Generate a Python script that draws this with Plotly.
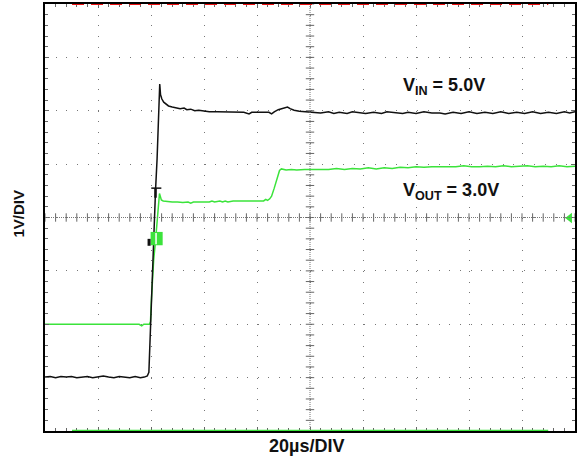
import plotly.graph_objects as go

# ---- data (time in µs, screen volts at 1V/DIV; bottom of screen = 0) ----
t_vin = [0, 2, 4, 6, 8, 10, 12, 14, 16, 18, 20, 22, 24, 26, 28, 30, 32, 34, 36, 37.5, 38.6,
         39.2, 39.5, 39.8, 40.2, 40.6, 41.1, 41.7, 42.3, 42.8, 43.1, 43.3, 43.6, 44.1, 44.8,
         45.6, 46.6, 48, 49.5, 51, 52.5, 53.5, 55, 56.5, 58, 60, 62, 65, 70, 75, 77, 78, 82,
         84.5, 85.5, 86.5, 88, 89.5, 90.8, 91.5, 92.5, 94, 96, 98, 101, 104, 107, 109, 111,
         114, 116, 119, 121, 124, 127, 129, 132, 135, 137, 140, 143, 146, 149, 151, 154, 157,
         160, 163, 166, 169, 172, 175, 178, 181, 184, 187, 190, 193, 196, 198, 200]
v_vin = [1.01, 1.02, 1.00, 1.02, 1.01, 1.02, 1.00, 1.01, 1.02, 1.00, 1.01, 1.03, 1.01, 1.00,
         1.02, 1.01, 1.00, 1.02, 1.00, 1.01, 1.03, 1.10, 1.5, 2.0, 2.6, 3.2, 3.9, 4.5, 5.1,
         5.9, 6.45, 6.50, 6.30, 6.22, 6.16, 6.12, 6.09, 6.07, 6.05, 6.04, 6.05, 6.02, 6.03,
         6.00, 6.01, 5.99, 5.98, 5.98, 5.97, 5.97, 5.94, 5.97, 5.97, 5.97, 5.94, 5.98, 6.02,
         6.04, 6.05, 6.07, 6.04, 6.01, 5.99, 5.98, 5.97, 5.96, 5.98, 5.95, 5.97, 5.95, 5.98,
         5.96, 5.95, 5.97, 5.95, 5.98, 5.96, 5.95, 5.97, 5.95, 5.98, 5.96, 5.96, 5.94, 5.97,
         5.95, 5.98, 5.95, 5.97, 5.95, 5.98, 5.95, 5.97, 5.95, 5.98, 5.95, 5.97, 5.95, 5.98,
         5.96, 5.98]

t_vout = [0, 4, 8, 12, 16, 20, 24, 28, 32, 35.5, 36.5, 37.3, 39.4, 39.8, 40.2, 40.6, 41.0,
          41.6, 42.2, 42.8, 43.2, 43.5, 43.9, 44.6, 46, 48, 50, 52, 54, 55, 56, 58, 60, 62,
          63, 64, 66, 67, 68, 69, 71, 74, 78, 81, 82.5, 83.3, 84, 84.8, 85.5, 86.5, 87.5,
          88.5, 89.2, 91, 93, 95, 98, 101, 104, 107, 110, 113, 116, 119, 122, 125, 128, 131,
          134, 137, 140, 143, 146, 149, 152, 155, 158, 161, 164, 167, 170, 173, 176, 179, 182,
          185, 188, 191, 194, 197, 200]
v_vout = [2.00, 2.00, 2.00, 2.00, 2.00, 2.00, 2.00, 2.00, 2.00, 2.00, 1.97, 2.00, 2.00, 2.05,
          2.5, 2.9, 3.2, 3.5, 3.9, 4.2, 4.45, 4.40, 4.33, 4.31, 4.30, 4.29, 4.29, 4.28, 4.29,
          4.27, 4.29, 4.29, 4.30, 4.29, 4.31, 4.29, 4.31, 4.29, 4.31, 4.29, 4.31, 4.31, 4.31,
          4.32, 4.31, 4.34, 4.32, 4.35, 4.40, 4.55, 4.72, 4.88, 4.91, 4.89, 4.90, 4.89, 4.90,
          4.90, 4.91, 4.90, 4.92, 4.90, 4.92, 4.91, 4.93, 4.91, 4.93, 4.92, 4.94, 4.93, 4.95,
          4.94, 4.95, 4.95, 4.95, 4.95, 4.97, 4.95, 4.95, 4.96, 4.95, 4.97, 4.95, 4.96, 4.97,
          4.95, 4.96, 4.95, 4.97, 4.95, 4.96]

x_label = "20µs/DIV"
y_label = "1V/DIV"
vin_label = "V<sub>IN</sub> = 5.0V"
vout_label = "V<sub>OUT</sub> = 3.0V"

X_DIV, Y_DIV = 20, 1
X_RANGE, Y_RANGE = [0, 200], [0, 8]
GREEN = "#3be33b"
FONT = "Liberation Sans, Arial, sans-serif"

fig = go.Figure()

# centre cross tick marks (graticule)
minor_x = [i * X_DIV / 5 for i in range(51)]
minor_y = [i * Y_DIV / 5 for i in range(41)]
fig.add_trace(go.Scatter(x=minor_x, y=[4] * len(minor_x), mode="markers",
                         marker=dict(symbol="line-ns", size=6, line=dict(width=1, color="#666")),
                         hoverinfo="skip", showlegend=False))
fig.add_trace(go.Scatter(x=[100] * len(minor_y), y=minor_y, mode="markers",
                         marker=dict(symbol="line-ew", size=6, line=dict(width=1, color="#666")),
                         hoverinfo="skip", showlegend=False))

fig.add_trace(go.Scatter(x=t_vout, y=v_vout, mode="lines", line=dict(color=GREEN, width=1.5),
                         showlegend=False, hoverinfo="skip"))
fig.add_trace(go.Scatter(x=t_vin, y=v_vin, mode="lines", line=dict(color="#111111", width=1.5),
                         showlegend=False, hoverinfo="skip"))

# right-edge channel arrow
fig.add_trace(go.Scatter(x=[198], y=[3.99], mode="markers",
                         marker=dict(symbol="triangle-left", size=9, color=GREEN),
                         hoverinfo="skip", showlegend=False))

shapes = [
    dict(type="line", x0=100, x1=100, y0=0, y1=8, line=dict(color="#777", width=1, dash="1px,1px")),
    dict(type="line", x0=0, x1=200, y0=4, y1=4, line=dict(color="#777", width=1, dash="1px,1px")),
    # scope overlays
    dict(type="rect", x0=39.85, x1=44.4, y0=3.48, y1=3.73, fillcolor=GREEN, line=dict(width=0)),
    dict(type="rect", x0=38.7, x1=39.85, y0=3.47, y1=3.60, fillcolor="#111", line=dict(width=0)),
    dict(type="line", x0=41.9, x1=41.9, y0=3.50, y1=3.71, line=dict(color="white", width=1.5)),
    dict(type="line", x0=40.1, x1=43.9, y0=4.55, y1=4.55, line=dict(color="#111", width=1.5)),
    dict(type="line", x0=41.7, x1=41.7, y0=4.55, y1=4.37, line=dict(color="#111", width=2.5)),
    dict(type="line", x0=10.2, x1=189.9, y0=8, y1=8, line=dict(color="#ee1111", width=2, dash="12px,7px")),
    dict(type="line", x0=10.2, x1=189.9, y0=0, y1=0, line=dict(color=GREEN, width=2.5)),
]

ax_common = dict(showline=True, linecolor="black", linewidth=2, mirror="allticks",
                 ticks="inside", ticklen=4, tickcolor="#666", tickwidth=1,
                 showticklabels=False, zeroline=False, showgrid=True,
                 gridcolor="#777", gridwidth=1, fixedrange=True)

fig.update_layout(
    width=579, height=460,
    margin=dict(l=45, r=2, t=4, b=29),
    paper_bgcolor="white", plot_bgcolor="white",
    shapes=shapes,
    xaxis=dict(range=X_RANGE, dtick=X_DIV, tick0=0, griddash="1px,9.675px",
               minor=dict(dtick=X_DIV / 5, ticks="inside", ticklen=3, tickcolor="#666", showgrid=False),
               **ax_common),
    yaxis=dict(range=Y_RANGE, dtick=Y_DIV, tick0=0, griddash="1px,9.64px",
               minor=dict(dtick=Y_DIV / 5, ticks="inside", ticklen=3, tickcolor="#666", showgrid=False),
               **ax_common),
    annotations=[
        dict(text="<b>" + vin_label + "</b>", xref="paper", yref="paper", x=0.671, y=0.806,
             xanchor="left", yanchor="middle", showarrow=False,
             font=dict(family=FONT, size=18, color="#111")),
        dict(text="<b>" + vout_label + "</b>", xref="paper", yref="paper", x=0.671, y=0.56,
             xanchor="left", yanchor="middle", showarrow=False,
             font=dict(family=FONT, size=18, color="#111")),
        dict(text="<b>" + x_label + "</b>", xref="paper", yref="paper", x=0.494, y=-0.035,
             xanchor="center", yanchor="middle", showarrow=False,
             font=dict(family=FONT, size=18, color="#111")),
        dict(text="<b>" + y_label + "</b>", xref="paper", yref="paper", x=-0.05, y=0.508,
             xanchor="center", yanchor="middle", showarrow=False, textangle=-90,
             font=dict(family=FONT, size=15, color="#111")),
    ],
)

fig.write_html("out.html", config={"displayModeBar": False},
               post_script="document.body.style.margin='0px';")
